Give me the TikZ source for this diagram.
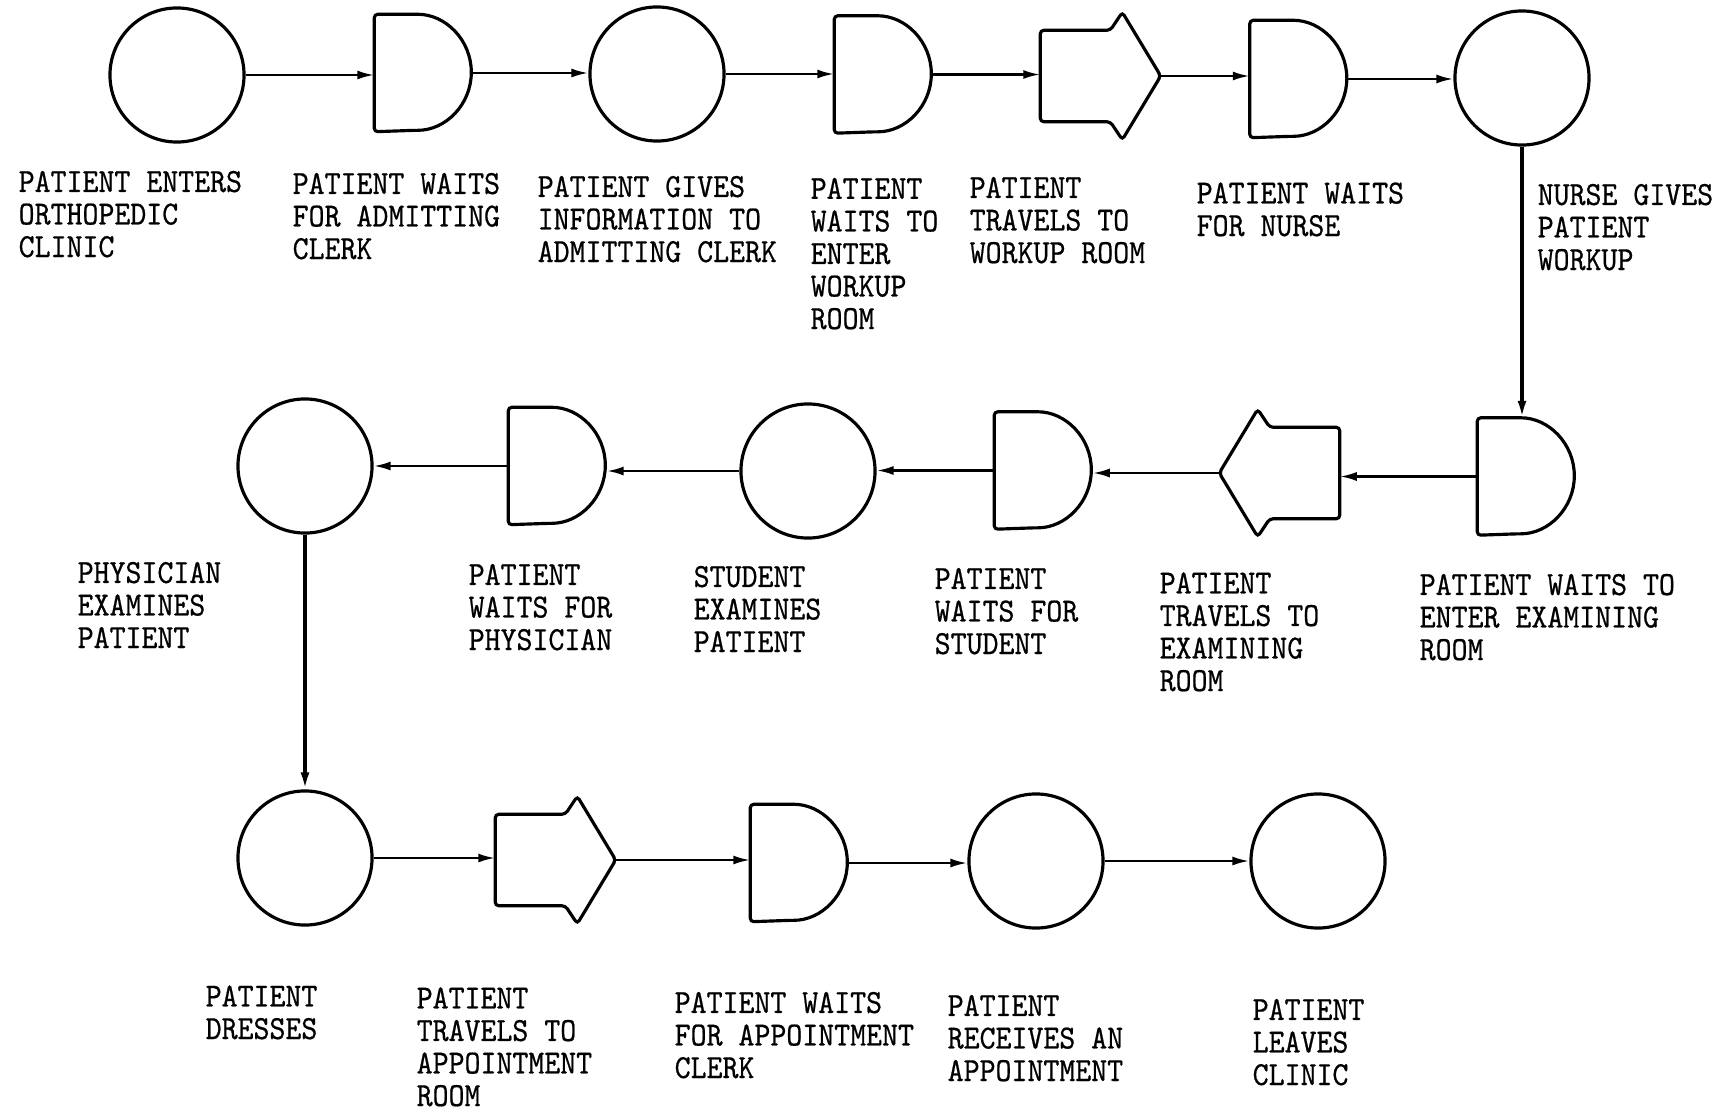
\documentclass[tikz,border=0pt]{standalone}
\usepackage{fontspec}
\setmonofont[FakeStretch=0.9,FakeBold=0.6]{Latin Modern Mono}
\usetikzlibrary{arrows.meta,calc}
\newcommand\delayD[1]{\draw[shp] (#1.south west) -- (#1.north west) -- ([xshift=0.40cm]#1.north west) arc[start angle=90,end angle=-90,x radius=0.57cm,y radius=0.58cm] -- cycle;}
\newcommand\transR[1]{\draw[shp] (#1.south west) -- (#1.north west) -- ([xshift=0.70cm]#1.north west) -- ([xshift=0.82cm,yshift=0.18cm]#1.north west) -- (#1.east) -- ([xshift=0.82cm,yshift=-0.18cm]#1.south west) -- ([xshift=0.70cm]#1.south west) -- cycle;}
\newcommand\transL[1]{\draw[shp] (#1.south east) -- (#1.north east) -- ([xshift=-0.70cm]#1.north east) -- ([xshift=-0.82cm,yshift=0.18cm]#1.north east) -- (#1.west) -- ([xshift=-0.82cm,yshift=-0.18cm]#1.south east) -- ([xshift=-0.70cm]#1.south east) -- cycle;}
\begin{document}
\begin{tikzpicture}[x=0.01cm,y=-0.01cm,
 op/.style={circle, draw, line width=0.9pt, minimum size=1.34cm, inner sep=0pt},
 delay/.style={rectangle, minimum width=0.97cm, minimum height=1.16cm, inner sep=0pt},
 trans/.style={rectangle, minimum width=1.19cm, minimum height=0.9cm, inner sep=0pt},
 flow/.style={line width=0.7pt, -{Latex[length=0.17cm,width=0.09cm]}},
 shp/.style={line width=0.9pt, rounded corners=1pt},
 lbl/.style={anchor=base west, align=left, inner sep=0pt, font=\ttfamily\fontsize{9.6}{9.25}\selectfont}]
\useasboundingbox (0,0) rectangle (1727,1109);
% row 1
\node[op] (c1) at (177,75) {};
\node[delay] (d1) at (423.5,73) {};
\node[op] (c2) at (657,74) {};
\node[delay] (d2) at (883.5,74.5) {};
\node[trans] (t1) at (1100.5,76) {};
\node[delay] (d3) at (1299,79) {};
\node[op] (c3) at (1522,78) {};
% row 2
\node[delay] (d4) at (1526.5,476.5) {};
\node[trans] (t2) at (1279.5,473) {};
\node[delay] (d5) at (1043.5,470.5) {};
\node[op] (c4) at (808,471) {};
\node[delay] (d6) at (557.5,466) {};
\node[op] (c5) at (305,466) {};
% row 3
\node[op] (c6) at (305,858) {};
\node[trans] (t3) at (555.5,860) {};
\node[delay] (d7) at (799.5,863) {};
\node[op] (c7) at (1036,861) {};
\node[op] (c8) at (1318,861) {};
% shapes
\delayD{d1}\delayD{d2}\delayD{d3}\delayD{d4}\delayD{d5}\delayD{d6}\delayD{d7}
\transR{t1}\transL{t2}\transR{t3}
% connectors
\draw[flow] (c1.east) -- (c1.east -| d1.west);
\draw[flow] (d1.east) -- (d1.east -| c2.west);
\draw[flow] (c2.east) -- (c2.east -| d2.west);
\draw[flow] (d2.east) -- (d2.east -| t1.west);
\draw[flow] (t1.east) -- (t1.east -| d3.west);
\draw[flow] (d3.east) -- (d3.east -| c3.west);
\draw[flow,line width=0.9pt] (c3.south) -- (c3.south |- d4.north);
\draw[flow] (d4.west) -- (d4.west -| t2.east);
\draw[flow] (t2.west) -- (t2.west -| d5.east);
\draw[flow] (d5.west) -- (d5.west -| c4.east);
\draw[flow] (c4.west) -- (c4.west -| d6.east);
\draw[flow] (d6.west) -- (d6.west -| c5.east);
\draw[flow,line width=0.9pt] (c5.south) -- (c6.north);
\draw[flow] (c6.east) -- (c6.east -| t3.west);
\draw[flow] (t3.east) -- (t3.east -| d7.west);
\draw[flow] (d7.east) -- (d7.east -| c7.west);
\draw[flow] (c7.east) -- (c7.east -| c8.west);
% labels (anchor = baseline of last line)
\node[lbl] (l1) at (18,257) {PATIENT ENTERS\\ORTHOPEDIC\\CLINIC};
\node[lbl] (l2) at (292,259) {PATIENT WAITS\\FOR ADMITTING\\CLERK};
\node[lbl] (l3) at (537,262) {PATIENT GIVES\\INFORMATION TO\\ADMITTING CLERK};
\node[lbl] (l4) at (810,329) {PATIENT\\WAITS TO\\ENTER\\WORKUP\\ROOM};
\node[lbl] (l5) at (969,263) {PATIENT\\TRAVELS TO\\WORKUP ROOM};
\node[lbl] (l6) at (1196,236) {PATIENT WAITS\\FOR NURSE};
\node[lbl] (l7) at (1537,270) {NURSE GIVES\\PATIENT\\WORKUP};
\node[lbl] (l8) at (77,648) {PHYSICIAN\\EXAMINES\\PATIENT};
\node[lbl] (l9) at (468,650) {PATIENT\\WAITS FOR\\PHYSICIAN};
\node[lbl] (l10) at (693,652) {STUDENT\\EXAMINES\\PATIENT};
\node[lbl] (l11) at (934,654) {PATIENT\\WAITS FOR\\STUDENT};
\node[lbl] (l12) at (1159,691) {PATIENT\\TRAVELS TO\\EXAMINING\\ROOM};
\node[lbl] (l13) at (1419,660) {PATIENT WAITS TO\\ENTER EXAMINING\\ROOM};
\node[lbl] (l14) at (205,1039) {PATIENT\\DRESSES};
\node[lbl] (l15) at (416,1106) {PATIENT\\TRAVELS TO\\APPOINTMENT\\ROOM};
\node[lbl] (l16) at (674,1078) {PATIENT WAITS\\FOR APPOINTMENT\\CLERK};
\node[lbl] (l17) at (947,1081) {PATIENT\\RECEIVES AN\\APPOINTMENT};
\node[lbl] (l18) at (1252,1085) {PATIENT\\LEAVES\\CLINIC};
\end{tikzpicture}
\end{document}
